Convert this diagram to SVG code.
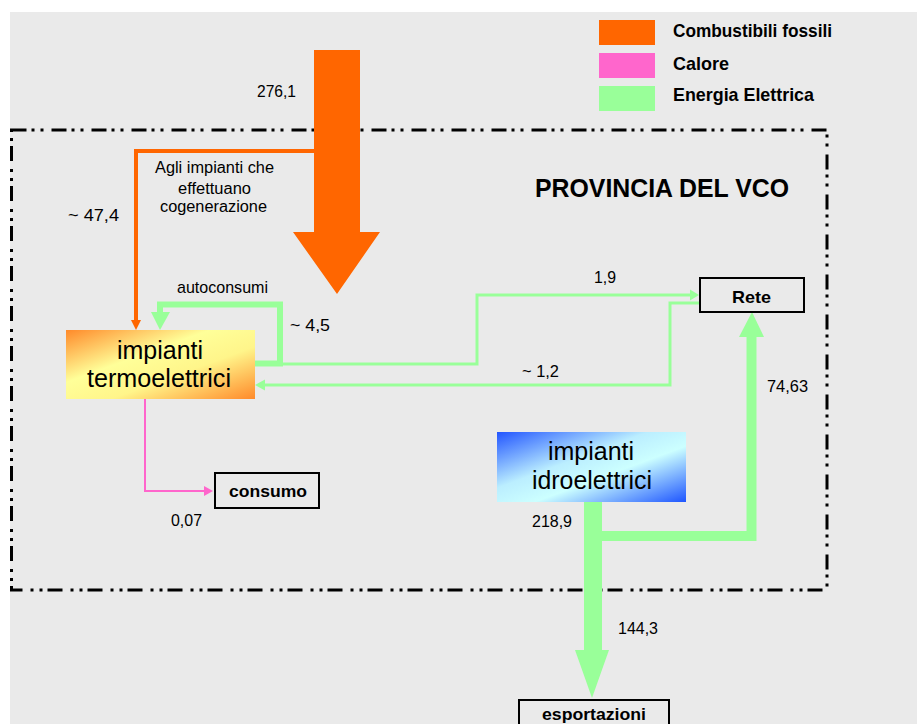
<svg xmlns="http://www.w3.org/2000/svg" width="917" height="724" viewBox="0 0 917 724">
<defs>
<linearGradient id="gTermo" x1="0" y1="0" x2="1" y2="1">
<stop offset="0" stop-color="#FF8A2A"/>
<stop offset="0.38" stop-color="#FFFF99"/>
<stop offset="0.62" stop-color="#FFF58A"/>
<stop offset="1" stop-color="#FF8A2A"/>
</linearGradient>
<linearGradient id="gIdro" x1="0" y1="0" x2="1" y2="1">
<stop offset="0" stop-color="#2255FF"/>
<stop offset="0.4" stop-color="#BBEEFF"/>
<stop offset="0.6" stop-color="#CCFFFF"/>
<stop offset="1" stop-color="#1E55FF"/>
</linearGradient>
<style>
.t{font-family:"Liberation Sans",Arial,sans-serif;fill:#000}
.n{font-size:17px}
.b{font-weight:bold}
.lg{font-size:19px;font-weight:bold}
.bx{font-size:25px}
.box{fill:none;stroke:#000;stroke-width:2}
.gr{fill:none;stroke:#99FF99;stroke-linejoin:miter}
.grf{fill:#99FF99}
.or{fill:#FF6600}
</style>
</defs>
<rect x="0" y="0" width="917" height="724" fill="#FFFFFF"/>
<rect x="10" y="12" width="907" height="712" fill="#EAEAEA"/>

<g id="legend">
<rect x="599" y="20" width="56" height="25" fill="#FF6600"/>
<rect x="599" y="53" width="56" height="25" fill="#FF66CC"/>
<rect x="599" y="86" width="56" height="25" fill="#99FF99"/>
<text class="t lg" x="673" y="37" textLength="159" lengthAdjust="spacingAndGlyphs">Combustibili fossili</text>
<text class="t lg" x="673" y="70" textLength="56" lengthAdjust="spacingAndGlyphs">Calore</text>
<text class="t lg" x="673" y="101" textLength="141" lengthAdjust="spacingAndGlyphs">Energia Elettrica</text>
</g>

<g id="provincia">
<rect x="11.5" y="130" width="815.5" height="460" fill="none" stroke="#000" stroke-width="3" stroke-dasharray="15 5 3 6 3 8"/>
<text class="t b" x="535" y="197" font-size="25" textLength="254" lengthAdjust="spacingAndGlyphs">PROVINCIA DEL VCO</text>
</g>

<g id="connectors">
<polygon class="or" points="314,50 360,50 360,232 380,232 337,294 293,232 314,232"/>
<polyline points="314,151 136,151 136,320" fill="none" stroke="#FF6600" stroke-width="4"/>
<polygon class="or" points="131,320 141,320 136,330"/>
<polyline class="gr" points="255,363.5 280,363.5 280,304.5 160,304.5 160,313" stroke-width="6"/>
<polygon class="grf" points="151,312 170,312 160,330"/>
<polyline class="gr" points="280,364 477,364 477,295 691,295" stroke-width="3"/>
<polygon class="grf" points="690,289.5 699,295 690,300.5"/>
<polyline class="gr" points="699,303 670,303 670,385 264,385" stroke-width="3"/>
<polygon class="grf" points="265,379.5 255,385 265,390.5"/>
<polyline points="145,399 145,491 205,491" fill="none" stroke="#FF66CC" stroke-width="2"/>
<polygon fill="#FF66CC" points="204,486 213,491 204,496"/>
<rect class="grf" x="584" y="502" width="18" height="149"/>
<polygon class="grf" points="575,650 609,650 592,698"/>
<polyline class="gr" points="600,536 751.5,536 751.5,336" stroke-width="10"/>
<polygon class="grf" points="739,337 764,337 752,312"/>
</g>

<g id="labels">
<text class="t n" x="257" y="97" textLength="39" lengthAdjust="spacingAndGlyphs">276,1</text>
<text class="t" font-size="16" x="155" y="173" textLength="119" lengthAdjust="spacingAndGlyphs">Agli impianti che</text>
<text class="t" font-size="16" x="178" y="194" textLength="73" lengthAdjust="spacingAndGlyphs">effettuano</text>
<text class="t" font-size="16" x="160" y="212" textLength="107" lengthAdjust="spacingAndGlyphs">cogenerazione</text>
<text class="t n" x="68" y="221" textLength="51" lengthAdjust="spacingAndGlyphs">~ 47,4</text>
<text class="t n" x="177" y="293" textLength="91" lengthAdjust="spacingAndGlyphs">autoconsumi</text>
<text class="t n" x="290" y="331" textLength="40" lengthAdjust="spacingAndGlyphs">~ 4,5</text>
<text class="t n" x="594" y="283" textLength="22" lengthAdjust="spacingAndGlyphs">1,9</text>
<text class="t n" x="522" y="377" textLength="37" lengthAdjust="spacingAndGlyphs">~ 1,2</text>
<text class="t n" x="767" y="392" textLength="41" lengthAdjust="spacingAndGlyphs">74,63</text>
<text class="t n" x="532" y="527" textLength="40" lengthAdjust="spacingAndGlyphs">218,9</text>
<text class="t n" x="171" y="526" textLength="31" lengthAdjust="spacingAndGlyphs">0,07</text>
<text class="t n" x="618" y="634" textLength="40" lengthAdjust="spacingAndGlyphs">144,3</text>
</g>

<g id="termoelettrici">
<rect x="66" y="330" width="189" height="69" fill="url(#gTermo)"/>
<text class="t bx" x="160" y="359" text-anchor="middle">impianti</text>
<text class="t bx" x="159" y="387" text-anchor="middle" textLength="144" lengthAdjust="spacingAndGlyphs">termoelettrici</text>
</g>

<g id="idroelettrici">
<rect x="497" y="432" width="189" height="70" fill="url(#gIdro)"/>
<text class="t bx" x="591" y="460" text-anchor="middle">impianti</text>
<text class="t bx" x="592" y="489" text-anchor="middle" textLength="120" lengthAdjust="spacingAndGlyphs">idroelettrici</text>
</g>

<g id="rete">
<rect class="box" x="700" y="278" width="104" height="34"/>
<text class="t b" x="751.5" y="303" font-size="17" text-anchor="middle" textLength="39" lengthAdjust="spacingAndGlyphs">Rete</text>
</g>

<g id="consumo">
<rect class="box" x="215" y="473" width="104" height="35"/>
<text class="t b" x="268" y="497" font-size="17" text-anchor="middle" textLength="78" lengthAdjust="spacingAndGlyphs">consumo</text>
</g>

<g id="esportazioni">
<rect class="box" x="519" y="700" width="150" height="40"/>
<text class="t b" x="594" y="720" font-size="16" text-anchor="middle" textLength="104" lengthAdjust="spacingAndGlyphs">esportazioni</text>
</g>
</svg>
